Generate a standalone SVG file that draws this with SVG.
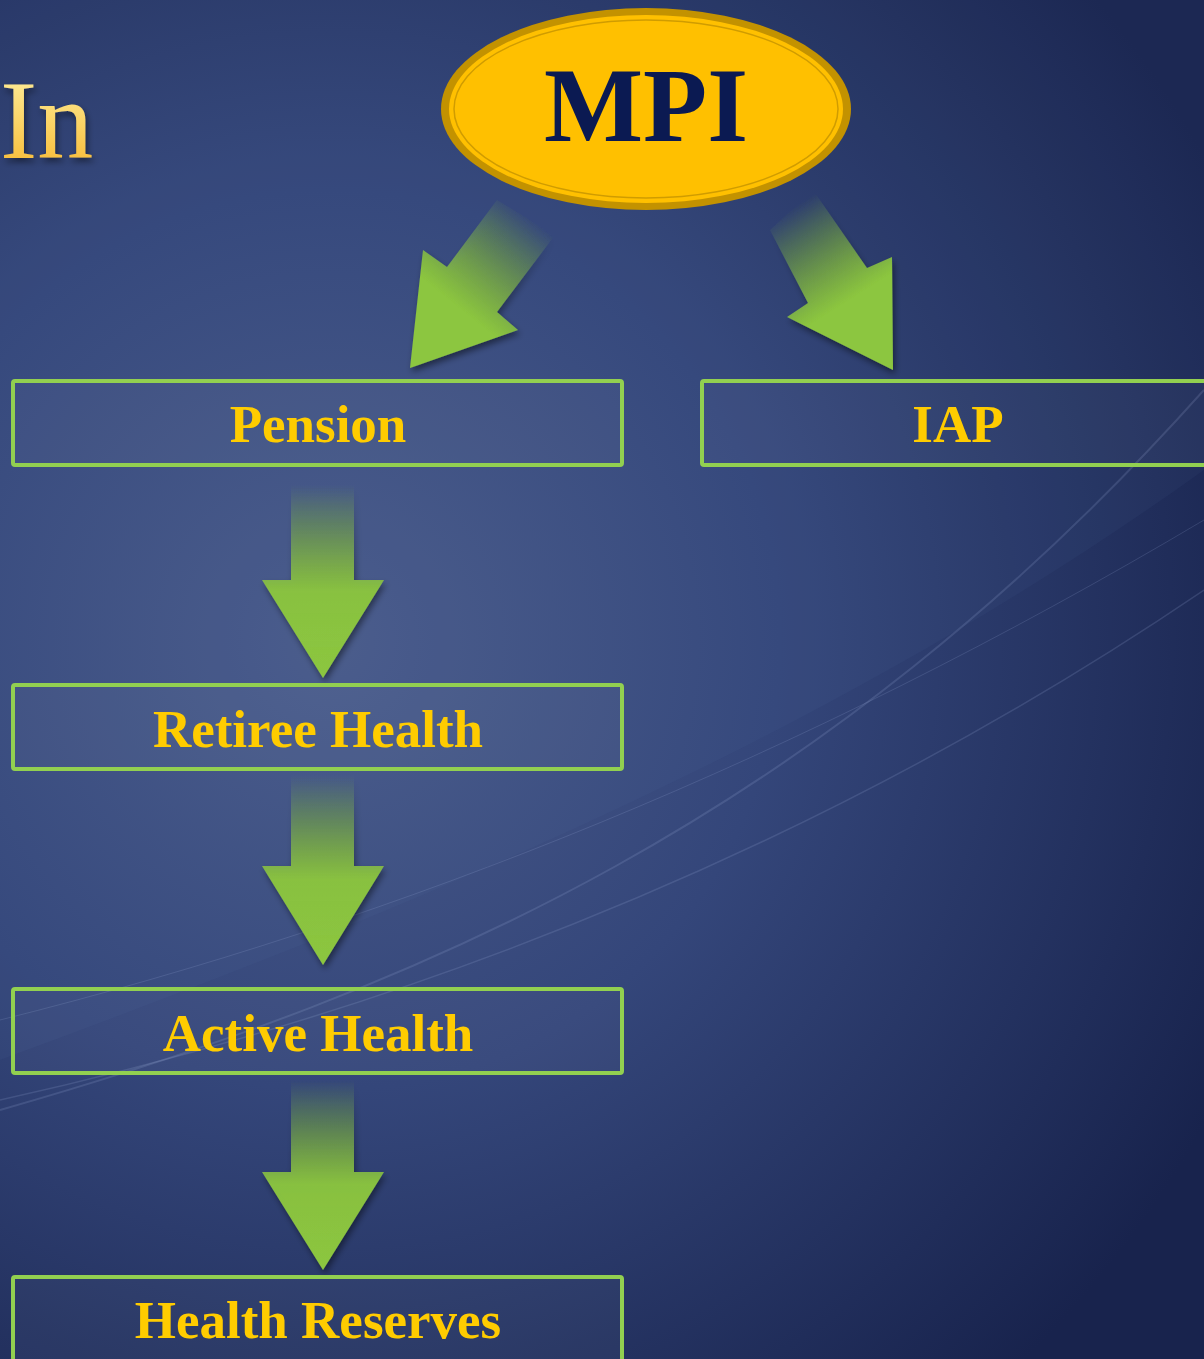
<svg xmlns="http://www.w3.org/2000/svg" width="1204" height="1359" viewBox="0 0 1204 1359">
<defs>
<radialGradient id="bg" cx="330" cy="640" r="1000" gradientUnits="userSpaceOnUse">
<stop offset="0" stop-color="#4a5b8a"/>
<stop offset="0.45" stop-color="#34467a"/>
<stop offset="1" stop-color="#18234d"/>
</radialGradient>
<linearGradient id="inGrad" x1="0" y1="0" x2="0" y2="1">
<stop offset="0" stop-color="#fff4a8"/>
<stop offset="1" stop-color="#f7b52a"/>
</linearGradient>
<linearGradient id="dn" x1="0" y1="0" x2="0" y2="1">
<stop offset="0" stop-color="#8cc63f" stop-opacity="0"/>
<stop offset="0.55" stop-color="#8cc63f" stop-opacity="0.95"/>
<stop offset="1" stop-color="#8cc63f"/>
</linearGradient>
<linearGradient id="dl" x1="527" y1="215" x2="455" y2="305" gradientUnits="userSpaceOnUse">
<stop offset="0" stop-color="#8cc63f" stop-opacity="0"/>
<stop offset="1" stop-color="#8cc63f"/>
</linearGradient>
<linearGradient id="dr" x1="792" y1="208" x2="850" y2="300" gradientUnits="userSpaceOnUse">
<stop offset="0" stop-color="#8cc63f" stop-opacity="0"/>
<stop offset="1" stop-color="#8cc63f"/>
</linearGradient>
<filter id="sh" x="-20%" y="-20%" width="140%" height="140%">
<feDropShadow dx="2" dy="4" stdDeviation="3" flood-color="#000" flood-opacity="0.45"/>
</filter>
<style>
.box{fill:#ffffff;fill-opacity:0.03;stroke:#92d050;stroke-width:4}
.lbl{font-family:"Liberation Serif","Times New Roman",serif;font-weight:bold;font-size:53px;fill:#ffcc00;text-anchor:middle}
.swoosh{fill:none;stroke:#9fb4e0;stroke-opacity:0.18}
</style>
</defs>
<rect width="1204" height="1359" fill="url(#bg)"/>
<path d="M0 1060 C 350 930 800 760 1204 470 L1204 0 L0 0 Z" fill="#6a80b8" fill-opacity="0.06"/>
<path class="swoosh" stroke-width="2" d="M0 1110 C 420 990 820 820 1204 390"/>
<path class="swoosh" stroke-width="1.5" d="M0 1100 C 450 1000 850 830 1204 590"/>
<path class="swoosh" stroke-width="1" stroke-opacity="0.1" d="M0 1020 C 400 920 800 760 1204 520"/>
<text x="0" y="158" font-family="'Liberation Serif','Times New Roman',serif" font-size="112" fill="url(#inGrad)" filter="url(#sh)">In</text>
<g id="mpi">
<ellipse cx="646" cy="109" rx="205" ry="101" fill="#c39200"/>
<ellipse cx="646" cy="109" rx="197" ry="94" fill="#ffc000"/>
<ellipse cx="646" cy="109" rx="192" ry="89" fill="none" stroke="#d09c00" stroke-width="1.5"/>
<text x="646" y="141" font-family="'Liberation Serif','Times New Roman',serif" font-weight="bold" font-size="105" fill="#0b1a52" text-anchor="middle">MPI</text>
</g>
<g id="connectors" filter="url(#sh)">
<polygon fill="url(#dl)" points="497,200 555,235 497,312 518,330 410,368 423,250 447,267"/>
<polygon fill="url(#dr)" points="770,230 813,190 867,268 892,257 893,370 787,317 808,303"/>
<polygon fill="url(#dn)" points="291,485 354,485 354,580 384,580 323,678 262,580 291,580"/>
<polygon fill="url(#dn)" points="291,775 354,775 354,866 384,866 323,965 262,866 291,866"/>
<polygon fill="url(#dn)" points="291,1080 354,1080 354,1172 384,1172 323,1270 262,1172 291,1172"/>
</g>
<g id="pension"><rect class="box" x="13" y="381" width="609" height="84" rx="2"/><text class="lbl" x="318" y="442">Pension</text></g>
<g id="iap"><rect class="box" x="702" y="381" width="520" height="84" rx="2"/><text class="lbl" x="958" y="442">IAP</text></g>
<g id="retiree"><rect class="box" x="13" y="685" width="609" height="84" rx="2"/><text class="lbl" x="318" y="747">Retiree Health</text></g>
<g id="active"><rect class="box" x="13" y="989" width="609" height="84" rx="2"/><text class="lbl" x="318" y="1051">Active Health</text></g>
<g id="reserves"><rect class="box" x="13" y="1277" width="609" height="100" rx="2"/><text class="lbl" x="318" y="1338">Health Reserves</text></g>
</svg>
